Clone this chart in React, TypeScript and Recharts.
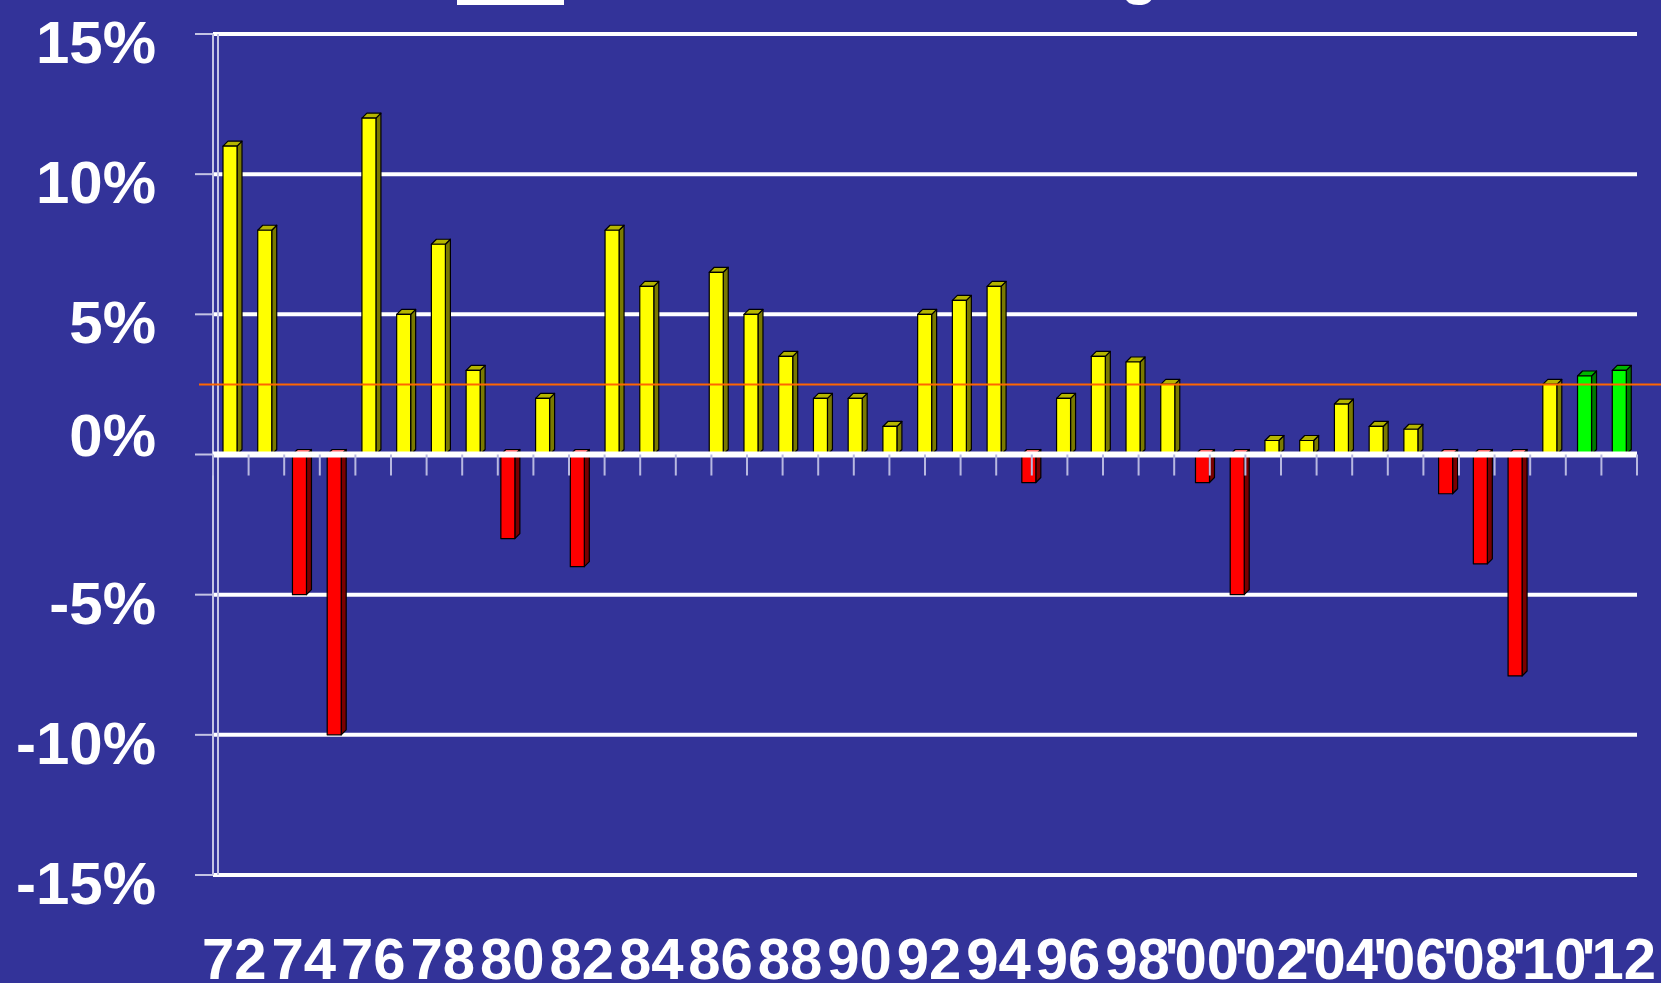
import React from 'react';
import { BarChart, Bar, XAxis, YAxis, CartesianGrid, ReferenceLine } from 'recharts';

// annual growth, 1972 - 2012 (%)
const years = [
  '72', '73', '74', '75', '76', '77', '78', '79', '80', '81',
  '82', '83', '84', '85', '86', '87', '88', '89', '90', '91',
  '92', '93', '94', '95', '96', '97', '98', '99', "'00", "'01",
  "'02", "'03", "'04", "'05", "'06", "'07", "'08", "'09", "'10", "'11", "'12",
];
const growth = [
  11, 8, -5, -10, 12, 5, 7.5, 3, -3, 2,
  -4, 8, 6, 0, 6.5, 5, 3.5, 2, 2, 1,
  5, 5.5, 6, -1, 2, 3.5, 3.3, 2.5, -1, -5,
  0.5, 0.5, 1.8, 1, 0.9, -1.4, -3.9, -7.9, 2.5, 2.8, 3,
];
const forecastYears = ["'11", "'12"];
const yTicks = [-15, -10, -5, 0, 5, 10, 15];
const average = 2.5;

const data = years.map((year, i) => ({ year, growth: growth[i] }));
const bandEdges = Array.from({ length: years.length + 1 }, (_, i) => i);

const BG = '#333399';
const FONT = '"Liberation Sans", Arial, Helvetica, sans-serif';
const LABEL_SIZE = 58;

const palette = {
  up: { front: '#ffff00', side: '#7a7a00', top: '#b5b500' },
  down: { front: '#ff0000', side: '#7a0000', top: '#ff7070' },
  forecast: { front: '#00ff00', side: '#007a00', top: '#00b500' },
};

function Bar3D(props: any) {
  const { x, y, width, height, payload } = props;
  if (!height || Math.abs(height) < 0.5) return null;
  const top = height < 0 ? y + height : y;
  const h = Math.abs(height);
  const d = 5;
  const c = payload.growth < 0
    ? palette.down
    : forecastYears.includes(payload.year) ? palette.forecast : palette.up;
  return (
    <g stroke="#000" strokeWidth={1.2} strokeLinejoin="round">
      <polygon
        points={`${x + width},${top} ${x + width + d},${top - d} ${x + width + d},${top + h - d} ${x + width},${top + h}`}
        fill={c.side}
      />
      <polygon
        points={`${x},${top} ${x + d},${top - d} ${x + width + d},${top - d} ${x + width},${top}`}
        fill={c.top}
      />
      <rect x={x} y={top} width={width} height={h} fill={c.front} />
    </g>
  );
}

function YTick({ x, y, payload }: any) {
  const shift = payload.value === 0 ? -28 : 0;
  return (
    <text x={x} y={y + 29 + shift} textAnchor="end" fill="#fff" fontSize={60} fontWeight="bold" fontFamily={FONT}>
      {payload.value}%
    </text>
  );
}

function XTick({ x, payload }: any) {
  const label: string = payload.value;
  const digits = label.replace("'", '');
  const half = digits.length * 0.556 * LABEL_SIZE / 2;
  const cx = x + 4;
  return (
    <g fill="#fff" fontSize={LABEL_SIZE} fontWeight="bold" fontFamily={FONT}>
      {label.startsWith("'") && (
        <text x={cx - half + 4} y={979} textAnchor="end">'</text>
      )}
      <text x={cx} y={979} textAnchor="middle">{digits}</text>
    </g>
  );
}

function WallLine({ x1, y1, x2, y2 }: any) {
  return (
    <g stroke="#c4c4e4" strokeWidth={2}>
      <line x1={x1} y1={y1} x2={x2} y2={y2} />
      <line x1={x1 + 5} y1={y1} x2={x2 + 5} y2={y2} />
    </g>
  );
}

function AvgLine({ x1, y1, y2 }: any) {
  return <line x1={x1 - 14} y1={y1} x2={1661} y2={y2} stroke="#ff6600" strokeWidth={2} />;
}

export default function App() {
  return (
    <div style={{ position: 'absolute', left: 0, top: 0, width: 1661, height: 983, background: BG, overflow: 'hidden', fontFamily: FONT }}>
      <div style={{ position: 'absolute', left: 457, top: 0, width: 107, height: 5, background: '#fff' }} />
      <div style={{ position: 'absolute', left: 1121, top: -57, fontSize: 60, lineHeight: '60px', fontWeight: 'bold', color: '#fff' }}>g</div>
      <BarChart
        width={1661}
        height={983}
        data={data}
        margin={{ top: 34, right: 24, left: 0, bottom: 0 }}
        barCategoryGap={0}
      >
        <CartesianGrid xAxisId="cat" vertical={false} stroke="#ffffff" strokeWidth={4} />
        <XAxis
          xAxisId="cat"
          dataKey="year"
          interval={1}
          height={108}
          axisLine={false}
          tickLine={false}
          tick={<XTick />}
        />
        <XAxis xAxisId="b" type="number" domain={[0, years.length]} hide />
        <YAxis
          domain={[-15, 15]}
          ticks={yTicks}
          width={213}
          axisLine={false}
          tickSize={18}
          tickMargin={39}
          tickLine={{ stroke: '#c4c4e4', strokeWidth: 2 }}
          tick={<YTick />}
        />
        <ReferenceLine xAxisId="b" x={0} shape={<WallLine />} />
        <ReferenceLine xAxisId="b" x={years.length} stroke="#c4c4e4" strokeWidth={2} />
        <ReferenceLine xAxisId="b" y={0} stroke="#ffffff" strokeWidth={6} />
        {bandEdges.map((i) => (
          <ReferenceLine
            key={i}
            xAxisId="b"
            segment={[{ x: i, y: 0 }, { x: i, y: -0.75 }]}
            stroke="#b8b8e0"
            strokeWidth={2}
          />
        ))}
        <Bar xAxisId="cat" dataKey="growth" barSize={14} shape={<Bar3D />} isAnimationActive={false} />
        <ReferenceLine xAxisId="b" y={average} shape={<AvgLine />} />
      </BarChart>
    </div>
  );
}
